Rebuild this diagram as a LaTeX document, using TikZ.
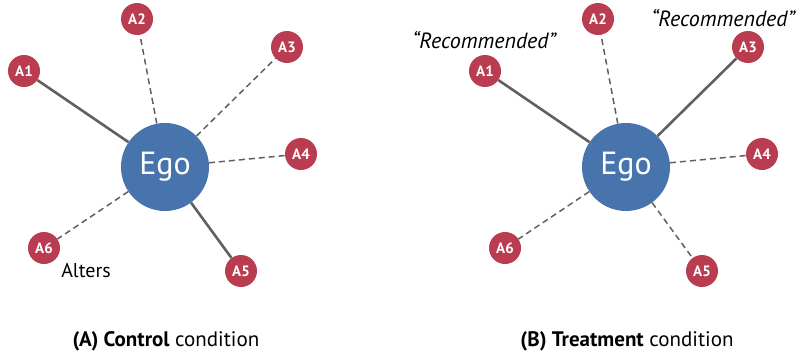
\documentclass[tikz,border=0pt]{standalone}
\usepackage{fontspec}
\setmainfont{PT Sans}
\definecolor{egoblue}{HTML}{4874AE}
\definecolor{altred}{HTML}{B93C50}
\definecolor{linegray}{HTML}{606060}
\begin{document}
\begin{tikzpicture}[x=1pt,y=-1pt,
  ego/.style={circle,fill=egoblue,minimum size=88pt,inner sep=0pt,text=white,font=\fontsize{32}{34}\selectfont},
  alt/.style={circle,fill=altred,minimum size=32pt,inner sep=0pt,text=white,font=\bfseries\fontsize{15}{17}\selectfont},
  strong/.style={draw=linegray,line width=2.6pt},
  weak/.style={draw=linegray,line width=1.5pt,dash pattern=on 6pt off 4pt},
  lbl/.style={font=\fontsize{21}{24}\selectfont},
  rec/.style={font=\itshape\fontsize{22}{24}\selectfont}]
\useasboundingbox (0,0) rectangle (800,359);
% Panel A
\node[ego] (egoA) at (165,167) {Ego};
\node[alt] (a1) at (24,71) {A1};
\node[alt] (a2) at (137,19) {A2};
\node[alt] (a3) at (287,47) {A3};
\node[alt] (a4) at (301,154) {A4};
\node[alt] (a5) at (241,271) {A5};
\node[alt] (a6) at (44,248) {A6};
\draw[strong] (egoA) -- (a1);
\draw[weak] (egoA) -- (a2);
\draw[weak] (egoA) -- (a3);
\draw[weak] (egoA) -- (a4);
\draw[strong] (egoA) -- (a5);
\draw[weak] (egoA) -- (a6);
\node[font=\fontsize{20}{22}\selectfont] (alters) at (86,271) {Alters};
\node[lbl] (capA) at (166,341) {\textbf{(A) Control} condition};
% Panel B
\node[ego] (egoB) at (626,167) {Ego};
\node[alt] (b1) at (485,71) {A1};
\node[alt] (b2) at (598,19) {A2};
\node[alt] (b3) at (748,47) {A3};
\node[alt] (b4) at (762,154) {A4};
\node[alt] (b5) at (702,271) {A5};
\node[alt] (b6) at (505,248) {A6};
\draw[strong] (egoB) -- (b1);
\draw[weak] (egoB) -- (b2);
\draw[strong] (egoB) -- (b3);
\draw[weak] (egoB) -- (b4);
\draw[weak] (egoB) -- (b5);
\draw[weak] (egoB) -- (b6);
\node[rec] (rec1) at (484,40) {``Recommended''};
\node[rec] (rec3) at (723,18) {``Recommended''};
\node[lbl] (capB) at (627,341) {\textbf{(B) Treatment} condition};
\end{tikzpicture}
\end{document}
